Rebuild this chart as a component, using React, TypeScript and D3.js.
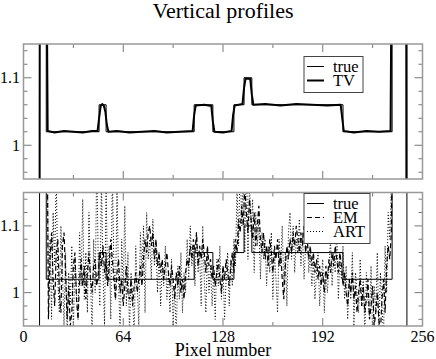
import * as d3 from "d3";
import React from "react";

// true (phantom) profile as steps: edges in pixels, one level per interval
const trueEdges = [0, 10.3, 14.6, 48.5, 53, 109.5, 121.5, 135, 141.5, 146.5, 205, 236.5, 246, 256];
const trueLevels = [0, 1.4, 1.02, 1.06, 1.02, 1.06, 1.02, 1.06, 1.1, 1.06, 1.02, 1.4, 0];

// TV reconstruction (pixel, value)
const tvPixel = [10, 10.5, 14.5, 15.5, 20, 26, 32, 38, 44, 47.5, 48.5, 49.5, 50.5, 51.5, 52.5, 53.5, 54.5, 60, 68, 76, 84, 92, 100, 108.5, 109.5, 110.5, 116, 120.5, 121.5, 122.5, 128, 133.5, 134.5, 135.5, 140.5, 141.5, 142.5, 145.5, 146.5, 147.5, 155, 165, 175, 185, 195, 203.5, 204.5, 205.5, 212, 220, 228, 235.5, 236.5, 245.5, 246];
const tvValue = [0, 1.4, 1.4, 1.021, 1.019, 1.021, 1.02, 1.019, 1.021, 1.021, 1.04, 1.058, 1.061, 1.059, 1.05, 1.03, 1.02, 1.021, 1.019, 1.02, 1.021, 1.019, 1.02, 1.021, 1.045, 1.059, 1.06, 1.058, 1.035, 1.02, 1.019, 1.021, 1.045, 1.059, 1.061, 1.085, 1.099, 1.098, 1.075, 1.06, 1.061, 1.059, 1.061, 1.06, 1.059, 1.06, 1.04, 1.021, 1.019, 1.021, 1.02, 1.021, 1.4, 1.4, 0];

// EM reconstruction, one value per pixel starting at emStart
const emStart = 14;
const emValue = [
  1.3, 1.3,
  0.96, 1.05, 1.09, 1.02, 0.98, 1.06, 1.08, 1.0, 0.97, 1.07,
  1.09, 1.03, 0.96, 1.01, 0.95, 0.97, 1.04, 1.06, 0.99, 0.96,
  1.02, 1.05, 1.01, 1.04, 0.99, 1.03, 1.06, 1.02, 1.0, 1.04,
  1.05, 1.01, 1.03, 1.06, 1.04, 1.07, 1.03, 1.05, 1.01, 1.04,
  1.08, 1.05, 1.02, 0.99, 1.03, 1.05, 1.0, 1.02, 0.98, 1.01,
  1.04, 1.0, 0.99, 1.02, 0.98, 1.01, 1.03, 1.0, 1.02, 1.04,
  1.01, 1.05, 1.08, 1.06, 1.09, 1.1, 1.07, 1.09, 1.05, 1.08,
  1.04, 1.06, 1.03, 1.05, 1.02, 1.04, 1.06, 1.03, 1.01, 1.04,
  1.02, 0.99, 1.03, 1.01, 1.04, 1.0, 1.02, 0.99, 1.03, 1.05,
  1.04, 1.07, 1.05, 1.08, 1.06, 1.09, 1.04, 1.07, 1.05, 1.08,
  1.06, 1.03, 1.07, 1.04, 1.05, 1.02, 1.04, 1.01, 1.03, 1.05,
  1.02, 1.0, 1.04, 1.02, 1.05, 1.03, 1.01, 1.04, 1.06, 1.03,
  1.08, 1.06, 1.11, 1.09, 1.13, 1.1, 1.16, 1.12, 1.09, 1.14,
  1.11, 1.08, 1.12, 1.07, 1.1, 1.13, 1.08, 1.06, 1.09, 1.05,
  1.07, 1.04, 1.08, 1.06, 1.03, 1.07, 1.05, 1.08, 1.04, 1.06,
  1.02, 0.99, 1.04, 1.07, 1.05, 1.08, 1.06, 1.09, 1.07, 1.1,
  1.08, 1.06, 1.09, 1.07, 1.1, 1.06, 1.08, 1.05, 1.07, 1.04,
  1.06, 1.03, 1.05, 1.02, 1.04, 1.01, 1.03, 1.0, 1.04, 1.02,
  1.05, 1.03, 1.06, 1.04, 1.07, 1.05, 1.03, 1.06, 1.04, 1.01,
  1.03, 1.0, 0.98, 1.02, 1.0, 1.03, 0.99, 1.01, 0.97, 1.0,
  1.02, 0.98, 1.01, 0.97, 0.99, 1.02, 0.96, 0.98, 1.01, 0.95,
  0.97, 1.0, 0.96, 0.94, 0.99, 1.02, 0.97, 1.04, 1.07, 1.05, 1.09,
  1.3,
];

// ART reconstruction, one value per pixel starting at artStart
const artStart = 15;
const artValue = [
  1.3,
  1.0, 1.08, 0.96, 1.12, 1.04, 1.18, 1.02, 0.97, 1.1, 1.03,
  0.95, 1.06, 0.93, 1.03, 0.98, 1.07, 0.94, 1.05, 1.0, 0.96,
  1.09, 1.01, 1.14, 0.99, 1.06, 0.97, 1.12, 1.02, 0.94, 1.08,
  1.0, 1.2, 1.04, 0.98, 1.17, 1.03, 0.95, 1.16, 1.01, 1.07,
  0.96, 1.18, 1.04, 0.99, 1.15, 1.02, 0.93, 1.08, 1.0, 1.13,
  0.98, 1.06, 0.94, 1.03, 1.0, 0.93, 1.07, 1.01, 0.95, 1.09,
  1.03, 1.1, 0.97, 1.12, 1.05, 1.08, 1.02, 1.11, 1.04, 1.07,
  1.0, 1.06, 0.98, 1.04, 1.01, 1.07, 0.99, 1.03, 0.97, 1.05,
  0.95, 1.01, 0.93, 1.04, 0.99, 1.06, 0.97, 1.03, 1.0, 1.08,
  1.02, 1.1, 1.04, 1.07, 1.01, 1.09, 1.03, 1.06, 0.98, 1.1,
  1.02, 0.97, 1.06, 1.0, 1.04, 0.98, 1.03, 0.96, 1.05, 1.01,
  1.07, 0.99, 1.04, 0.96, 1.02, 1.06, 0.98, 1.05, 1.01, 1.08,
  1.04, 1.16, 1.07, 1.2, 1.1, 1.18, 1.06, 1.22, 1.05, 1.17,
  1.09, 1.14, 1.03, 1.12, 1.07, 1.11, 1.02, 1.09, 1.05, 1.08,
  1.01, 1.07, 1.03, 1.09, 0.99, 1.06, 1.02, 0.97, 1.08, 1.04,
  1.1, 1.01, 1.06, 0.98, 1.09, 1.12, 1.05, 1.1, 1.03, 1.08,
  1.06, 1.11, 1.04, 1.09, 1.02, 1.07, 1.1, 1.03, 1.06, 1.01,
  1.05, 0.99, 1.03, 1.06, 0.98, 1.02, 1.05, 0.97, 1.03, 1.0,
  1.04, 1.08, 1.01, 1.06, 1.03, 1.1, 0.99, 1.05, 1.02, 1.07,
  0.99, 1.04, 0.96, 1.02, 0.99, 1.06, 0.95, 1.03, 1.0, 0.97,
  1.05, 0.98, 1.02, 0.94, 1.03, 0.99, 0.96, 1.04, 0.93, 1.01,
  0.97, 1.06, 0.94, 1.03, 0.98, 0.93, 1.07, 1.0, 1.12, 1.08, 1.16,
  1.3,
];

const xTicks = [0, 64, 128, 192, 256];
const xMinor = [32, 96, 160, 224];
const yTicks = [1, 1.1];
const yMinor = [0.96, 0.98, 1.02, 1.04, 1.06, 1.08, 1.12, 1.14];

const topLegend = ["true", "TV"];
const bottomLegend = ["true", "EM", "ART"];

const font = "'Liberation Serif', 'Times New Roman', serif";
const frameColor = "#999";

const x = d3.scaleLinear().domain([0, 256]).range([23.5, 422.5]);

type Pt = [number, number];

function Panel(props: { id: string; top: number; bottom: number; children: (y: d3.ScaleLinear<number, number>) => React.ReactNode; xLabels?: boolean }) {
  const y = d3.scaleLinear().domain([0.95, 1.15]).range([props.bottom, props.top]);
  const [x0, x1] = x.range();
  const tick = (len: number, v: number, key: string, axis: "x" | "y") =>
    axis === "x" ? (
      <g key={key}>
        <line x1={x(v)} x2={x(v)} y1={props.bottom} y2={props.bottom - len} />
        <line x1={x(v)} x2={x(v)} y1={props.top} y2={props.top + len} />
      </g>
    ) : (
      <g key={key}>
        <line x1={x0} x2={x0 + len} y1={y(v)} y2={y(v)} />
        <line x1={x1} x2={x1 - len} y1={y(v)} y2={y(v)} />
      </g>
    );
  return (
    <g>
      <clipPath id={props.id}>
        <rect x={x0} y={props.top} width={x1 - x0} height={props.bottom - props.top} />
      </clipPath>
      <g clipPath={`url(#${props.id})`}>{props.children(y)}</g>
      <g stroke="#777" strokeWidth={1}>
        {xTicks.map((v) => tick(8, v, "xm" + v, "x"))}
        {xMinor.map((v) => tick(4, v, "xn" + v, "x"))}
        {yTicks.map((v) => tick(8, v, "ym" + v, "y"))}
        {yMinor.map((v) => tick(4, v, "yn" + v, "y"))}
      </g>
      <rect x={x0} y={props.top} width={x1 - x0} height={props.bottom - props.top} fill="none" stroke={frameColor} strokeWidth={1.5} />
      {yTicks.map((v) => (
        <text key={v} x={20} y={y(v)} dy="0.35em" textAnchor="end" fontSize={16} fontFamily={font}>
          {d3.format("~g")(v)}
        </text>
      ))}
      {props.xLabels &&
        xTicks.map((v) => (
          <text key={v} x={x(v)} y={342} textAnchor="middle" fontSize={16} fontFamily={font}>
            {v}
          </text>
        ))}
    </g>
  );
}

function Legend(props: { left: number; top: number; width: number; labels: string[]; dashes: (string | undefined)[]; widths: number[] }) {
  const rowH = 14;
  const h = props.labels.length * rowH + 8;
  return (
    <g>
      <rect x={props.left} y={props.top} width={props.width} height={h} fill="white" stroke="#444" strokeWidth={1} />
      {props.labels.map((lab, i) => {
        const cy = props.top + 10 + i * rowH;
        return (
          <g key={lab}>
            <line x1={props.left + 3} x2={props.left + 20} y1={cy} y2={cy} stroke="black" strokeWidth={props.widths[i]} strokeDasharray={props.dashes[i]} />
            <text x={props.left + 29} y={cy + 5} fontSize={16.5} fontFamily={font}>
              {lab}
            </text>
          </g>
        );
      })}
    </g>
  );
}

export default function App() {
  const truePts: Pt[] = trueEdges.map((e, i) => [e, trueLevels[Math.min(i, trueLevels.length - 1)]]);
  const tvPts: Pt[] = tvPixel.map((p, i) => [p, tvValue[i]]);
  const emPts: Pt[] = emValue.map((v, i) => [emStart + i, v]);
  const artPts: Pt[] = artValue.map((v, i) => [artStart + i, v]);

  const mk = (y: d3.ScaleLinear<number, number>, step = false) =>
    d3
      .line<Pt>()
      .x((d) => x(d[0]))
      .y((d) => y(d[1]))
      .curve(step ? d3.curveStepAfter : d3.curveLinear);

  return (
    <svg width={436} height={359} style={{ position: "absolute", left: 0, top: 0, background: "white" }}>
      <text x={223} y={18} textAnchor="middle" fontSize={22} fontFamily={font}>
        Vertical profiles
      </text>
      <Panel id="clipTop" top={44} bottom={179}>
        {(y) => (
          <g fill="none" stroke="black">
            <path d={mk(y, true)(truePts) || ""} strokeWidth={1} />
            <path d={mk(y)(tvPts) || ""} strokeWidth={2} strokeLinejoin="round" />
          </g>
        )}
      </Panel>
      <Panel id="clipBottom" top={192.5} bottom={326} xLabels>
        {(y) => (
          <g fill="none" stroke="black">
            <path d={mk(y)(artPts) || ""} strokeWidth={1} strokeDasharray="1,2" />
            <path d={mk(y)(emPts) || ""} strokeWidth={1.2} strokeDasharray="5,3" />
            <path d={mk(y, true)(truePts) || ""} strokeWidth={1} />
          </g>
        )}
      </Panel>
      <Legend left={304} top={56.5} width={59} labels={topLegend} dashes={[undefined, undefined]} widths={[1, 2]} />
      <Legend left={304} top={193.5} width={66} labels={bottomLegend} dashes={[undefined, "5,3", "1,2"]} widths={[1, 1.2, 1]} />
      <text x={223} y={355.5} textAnchor="middle" fontSize={18} fontFamily={font}>
        Pixel number
      </text>
    </svg>
  );
}
